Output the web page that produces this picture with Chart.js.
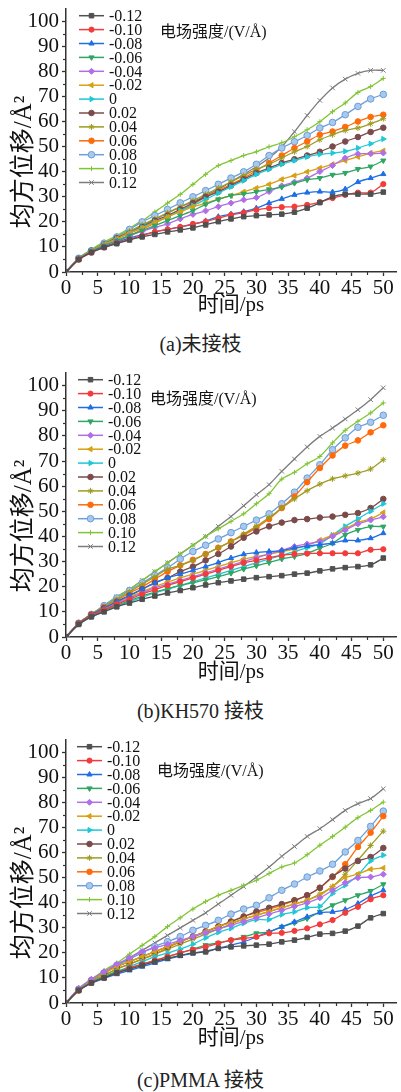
<!DOCTYPE html>
<html><head><meta charset="utf-8">
<script src="https://cdn.jsdelivr.net/npm/chart.js@4.4.0/dist/chart.umd.min.js"></script>
<style>
html,body{margin:0;padding:0;background:#fff;}
body{width:401px;height:1092px;position:relative;overflow:hidden;}
.wrap{position:absolute;left:0;width:401px;}
canvas{display:block;}
.cap{position:absolute;left:0;width:401px;text-align:center;font-family:"Liberation Serif","Noto Sans CJK SC",serif;font-size:20px;color:#222;line-height:24px;}
</style></head><body>
<div class="wrap" style="top:0;height:320px"><canvas id="ca" width="401" height="320"></canvas></div>
<div class="cap" style="top:332px">(a)未接枝</div>
<div class="wrap" style="top:364px;height:321px"><canvas id="cb" width="401" height="321"></canvas></div>
<div class="cap" style="top:699px">(b)KH570 接枝</div>
<div class="wrap" style="top:731px;height:320px"><canvas id="cc" width="401" height="320"></canvas></div>
<div class="cap" style="top:1068px">(c)PMMA 接枝</div>
<script>
// ---- shared data ----
const times = [0,2,4,6,8,10,12,14,16,18,20,22,24,26,28,30,32,34,36,38,40,42,44,46,48,50];
const fieldLabels = ['-0.12','-0.10','-0.08','-0.06','-0.04','-0.02','0','0.02','0.04','0.06','0.08','0.10','0.12'];
const xTicks = [0,5,10,15,20,25,30,35,40,45,50];
const yTicks = [0,10,20,30,40,50,60,70,80,90,100];

// ---- (a) 未接枝 ----
const a_m12 = [0,5,7.8,9.8,11.3,12.8,14,15,16,16.8,17.6,18.8,20.1,21.2,22.1,22.5,22.8,23.1,23.9,25.5,27.7,30.1,31.1,31.1,31.1,31.9];
const a_m10 = [0,5,7.7,9.8,11.5,13,14.5,16,17,18,19.2,20.1,21.5,22.8,23.7,24.8,25.5,25.9,26.1,26.8,27.9,29.5,30.8,31.7,31.7,35.1];
const a_m08 = [0,5,8,10,11.8,13.5,14.8,16,17,18,19,20.4,22.1,23.1,24.1,25.5,27.5,29.2,30.8,31.7,32.1,31.9,33.1,35.9,37.5,39.1];
const a_m06 = [0,5.2,8.2,10.5,12.5,14.5,16.5,18.5,20.5,22.5,24.5,27,29,30.5,31.2,32,33,33.9,35.5,36.8,37.5,38.8,39.5,41.1,42.1,44.5];
const a_m04 = [0,5.2,8.2,10.5,12.5,14.5,16.3,17.8,19.2,21.2,23,24.4,26.1,27.5,28.8,29.7,32.1,34.4,35.9,37.5,40.1,42.5,45.5,47.2,47.2,47.5];
const a_m02 = [0,5.3,8.5,11,13.2,15.5,17.5,19.8,22,24,26,27.5,29,30.5,32,33.5,35,37,38.5,40,41.5,43,44.5,46,47.5,48.4];
const a_z00 = [0,5.3,8.5,11,13.2,15.5,17.8,20,22,24.5,26.5,29,31.5,34,36.5,39,41,43,44.5,46,47,47.5,48.2,49.5,51.2,53.1];
const a_p02 = [0,5.3,8.5,11,13.5,15.5,18,20.5,22.5,25,27.5,30,32,34.5,37,39.5,41.5,43.5,45,46.5,48,50.1,52.1,53.9,55.9,57.6];
const a_p04 = [0,5.4,8.7,11.3,13.8,16.3,18.8,21.2,23.6,26,28.5,31,33.5,36,38.5,41,43,45.5,48,50.1,52.8,54.8,56.5,57.5,59.2,61.2];
const a_p06 = [0,5,8.2,10,12,14.5,17,19.5,22,24.5,27,30,32.5,35,37.5,40.5,43.5,46.5,49.5,52.1,54.8,56.1,57.9,60.1,61.9,62.8];
const a_p08 = [0,5.5,8.5,11.5,14,17,20,22.5,25,27.6,30,32.5,35,37.5,40,43,46.5,49.5,52,54.5,57.5,59.7,62.8,66.1,69.1,70.9];
const a_p10 = [0,5.5,9,12,14.5,17.5,20.5,24,27.5,31,35,39,42.5,44.5,46.5,48,50,51.6,54,56.8,60,64,67.5,71.7,74,77.3];
const a_p12 = [0,5.5,8.5,11,13.5,16,18.5,21,23.5,26,28,30.5,33,36,39,42,45.5,50,56,62.5,68.5,73.5,77,79.3,80.5,80.5];

// ---- (b) KH570 接枝 ----
const b_m12 = [0,5,8,10,12,13.5,15,16.3,17.5,18.5,19.6,20.7,21.6,22.3,23,23.6,24,24.4,25,25.4,26.3,27.1,27.6,28,28.7,31.4];
const b_m10 = [0,5.2,8.5,10.8,13,15,17,18.8,20.5,22,23.5,25,26.5,28,29.5,30.5,31.5,32.5,33,33.2,33.3,33.3,33.3,33.3,34.7,34.9];
const b_m08 = [0,5.3,8.8,11.5,14,16.5,19,21.5,23.5,25,26.5,28,29.6,31.4,32.9,33.6,34,34.3,35.5,36.2,36.7,37.3,38.4,38.4,39.3,41.3];
const b_m06 = [0,5.2,8.3,10.5,12.5,14.5,16.3,17.8,19.2,20.5,21.6,22.7,24,25.4,27,28.3,29.6,31,32,33.3,35.3,37.3,40.6,42.6,43.9,43.9];
const b_m04 = [0,5.3,8.5,11,13.3,15.5,17.5,19.5,21,22.5,24,25.5,27,28.5,30,31.5,33,34.5,36,37,38,40,42.5,45,46.5,47.8];
const b_m02 = [0,5.3,8.6,11.2,13.6,16,18,20,21.8,23.5,25,26.5,28,29.5,31,32,33,34,35,36.5,38.5,40.5,43,45.5,47,49.5];
const b_z00 = [0,5,8,10.2,12.2,14,15.8,17.5,19,20.5,22,23.5,25,26.5,28,29.5,31,32.5,34,35.5,37,40.5,44,47,50,53];
const b_p02 = [0,5.3,8.8,11.5,14,16.5,19,21.5,23.5,26,28,30.5,33,36,39.5,42,44,45.5,46.5,46.9,47.5,47.9,48.6,49.3,51.3,54.9];
const b_p04 = [0,5.5,9,12,15,18,21,24,27,28.5,30.5,33,35.5,38,41,44,47.5,51.3,54.9,58.2,60.8,62.9,64.1,65.2,66.8,70.5];
const b_p06 = [0,5.5,9,12,14.5,17.5,20,23,26,28.5,30.7,33,35.5,38,40.5,43.5,46.9,51.3,55.9,61.6,67.2,72.2,76.1,78.2,81.4,84.2];
const b_p08 = [0,5.5,9,12.5,15.5,18.5,21.5,24.5,27.5,31,34,36.5,39,41.5,44,46.5,49,53,57.6,63.2,68.5,74.5,79.2,83.4,85.4,88.2];
const b_p10 = [0,5.5,9,12.5,16,19,22.5,26,29.5,33,36.5,40,43,46,49,53,57,62.8,65.5,68.9,71.8,77.2,82.2,85.8,89.1,93.1];
const b_p12 = [0,5.5,9,12.5,16,19,22.5,26,29.5,33,36.5,40,44,47.9,52.2,56.6,60.6,65.9,70.8,75.6,79.8,83.1,86.7,90.4,94.4,99.1];

// ---- (c) PMMA 接枝 ----
const c_m12 = [0,5,8,10,12,13.5,15,16.5,17.8,19,20,20.4,21.8,22.4,22.8,23.1,23.5,24.4,25.1,26.2,27.5,27.8,28.7,30.7,34,35.7];
const c_m10 = [0,5,8,10,12,14,15.5,17,18.5,20,21.3,22.4,23.8,25.1,25.8,26.4,27.8,28,28.8,29.8,31.4,33.1,36,38.4,41.4,43];
const c_m08 = [0,5,7.8,9.8,11.5,13,14.5,16,17.5,18.8,19.8,20.7,21.8,23.1,24.4,26.4,28.4,30.4,32.4,34.4,36.1,36.4,37.3,39.7,42.7,45];
const c_m06 = [0,5.3,8.3,10.5,12.5,14,15.5,17,18.5,20,21.5,23.1,24,25.1,26.4,27.8,28.4,30.4,32,33.7,36.4,39,41,43,44.7,47.4];
const c_m04 = [0,5.8,9.5,12.5,15.5,18,20.5,22,23.5,25,26.5,28,29.5,31,32.5,34,35.5,37,38.5,40,42,45,48,50,50.3,51.4];
const c_m02 = [0,5.5,9,12,14.5,16.5,18.5,20.5,22.5,24.5,26.5,28.5,30.5,32,33.5,35,36.5,38,39.5,41,43,46.5,50,51.5,53.4,53.9];
const c_z00 = [0,5.5,8.5,10.5,12.5,14.5,16.5,18.5,20,21.5,23.5,26,28.2,29.8,31.8,33.3,33.3,35.3,36.4,38.1,38.6,43.7,47,51,56.7,59];
const c_p02 = [0,5.5,9,12,14.5,16.5,18.5,20.5,22.5,24.5,26.5,28.5,30.5,32.5,34.5,36.5,38,39.5,41,43,46,50.5,53.7,56.7,58.3,61.9];
const c_p04 = [0,5,8.5,11,13.5,15.5,17.5,19.5,21.5,23.5,25.5,27.5,29.5,31.5,33.5,35,36.5,38,39.5,41,43.5,46.5,51.4,57,62.9,68.6];
const c_p06 = [0,5,8.5,11,13.5,15.5,17.5,19.5,22,24.5,26.5,28.5,30.5,32.5,34.5,36,37.5,39,41,43,46,50.3,55.4,62.3,68,74.6];
const c_p08 = [0,5.5,9,12,15,17.5,20,22.5,24.5,26.5,29,31,33,35.5,37.5,39,42,45,47.5,50.3,52.7,55.4,60.3,64.9,70.5,76.6];
const c_p10 = [0,5.8,9.5,13,16,19.5,23,26.5,30.5,34,37.5,40.5,43,45,47,49,51.7,54.3,55.9,59.2,63,66.5,70.2,74,76.9,80.2];
const c_p12 = [0,5.5,9,12,15,18,21,24,27,30,33,36,39.5,43,46.5,50.3,54.3,58.6,62.5,66.5,69.6,73.2,76.9,79.6,81.6,85.5];

// ---- styles ----
const colors = ['#505050','#f23c3c','#1e6ee6','#2fa664','#b06ee8','#d9a010','#1ec8d6','#7b4b4b','#9e9c20','#ff6a0a','#6a9fd8','#80c535','#7c7c7c'];
const fills  = ['#505050','#f23c3c','#1e6ee6','#2fa664','#b06ee8','#d9a010','#1ec8d6','#7b4b4b','#9e9c20','#ff6a0a','#a9c8ee','#80c535','#7c7c7c'];
const shapes = ['rect','circle','triangle','triangle','rectRot','triangle','triangle','circle','star','circle','circle','cross','crossRot'];
const rots   = [0,0,0,180,0,-90,90,0,0,0,0,0,0];
const radii  = [3.2,2.6,3,3,3,3,3,2.8,3,2.8,3.3,2.5,3.2];

function buildDatasets(list){
  return list.map((vals,i)=>({
    label: fieldLabels[i],
    data: times.map((t,k)=>({x:t,y:vals[k]})),
    borderColor: colors[i], backgroundColor: fills[i],
    pointBackgroundColor: fills[i], pointBorderColor: colors[i],
    pointStyle: shapes[i], pointRotation: rots[i], pointRadius: radii[i],
    pointBorderWidth: 1, borderWidth: 1.3, tension: 0.3
  }));
}

function drawShape(ctx, ds, x, y){
  const h = Chart.helpers;
  ctx.fillStyle = ds.pointBackgroundColor; ctx.strokeStyle = ds.pointBorderColor; ctx.lineWidth = 1;
  if (h && h.drawPoint){
    h.drawPoint(ctx, {pointStyle: ds.pointStyle, rotation: ds.pointRotation, radius: ds.pointRadius, borderWidth: 1}, x, y);
  } else {
    ctx.beginPath(); ctx.arc(x,y,ds.pointRadius,0,Math.PI*2); ctx.fill();
  }
}

const overlay = {
  id:'overlay',
  afterDraw(chart, args, o){
    const ctx = chart.ctx, ca = chart.chartArea;
    const xs = chart.scales.x, ys = chart.scales.y;
    ctx.save();
    // minor ticks
    ctx.strokeStyle = '#333'; ctx.lineWidth = 1.2;
    for (let v = 2.5; v < 52; v += 5){
      const px = Math.round(xs.getPixelForValue(v)) + 0.5;
      ctx.beginPath(); ctx.moveTo(px, ca.bottom); ctx.lineTo(px, ca.bottom + 3); ctx.stroke();
    }
    for (let v = 5; v < 105; v += 10){
      const py = Math.round(ys.getPixelForValue(v)) + 0.5;
      ctx.beginPath(); ctx.moveTo(ca.left - 3, py); ctx.lineTo(ca.left, py); ctx.stroke();
    }
    // legend
    ctx.font = '16px "Liberation Serif", serif';
    ctx.textBaseline = 'middle'; ctx.textAlign = 'left';
    chart.data.datasets.forEach((ds,i)=>{
      const y = ca.top + o.legendDy + i*13.9;
      ctx.strokeStyle = ds.borderColor; ctx.lineWidth = 1.5;
      ctx.beginPath(); ctx.moveTo(o.legendX, y); ctx.lineTo(o.legendX + 25, y); ctx.stroke();
      drawShape(ctx, ds, o.legendX + 12.5, y);
      ctx.fillStyle = '#111';
      ctx.fillText(ds.label, o.legendX + 30, y + 1);
    });
    // field label
    ctx.font = '16px "Liberation Serif", "Noto Sans CJK SC", serif';
    ctx.fillStyle = '#111';
    ctx.fillText('电场强度/(V/Å)', o.fieldX, ca.top + o.fieldDy);
    // y title
    ctx.translate(24, o.yTitleCy);
    ctx.rotate(-Math.PI/2);
    ctx.textAlign = 'center';
    ctx.font = '25px "Liberation Serif", "Noto Sans CJK SC", serif';
    ctx.fillText('均方位移/Å²', 0, 0);
    ctx.restore();
  }
};

function makeChart(id, list, o){
  new Chart(document.getElementById(id), {
    type: 'line',
    data: { datasets: buildDatasets(list) },
    options: {
      responsive: false, animation: false,
      layout: { padding: { left: 0, right: 3, top: 9, bottom: 0 } },
      plugins: { legend: { display: false }, tooltip: { enabled: false }, overlay: o },
      scales: {
        x: {
          type: 'linear', min: 0, max: 52,
          afterBuildTicks: s => { s.ticks = xTicks.map(v=>({value:v})); },
          ticks: { font: { family: 'Liberation Serif', size: 21 }, color: '#111', padding: 0, maxRotation: 0, autoSkip: false },
          grid: { display: true, drawOnChartArea: false, drawTicks: true, tickLength: 4, tickColor: '#333', tickWidth: 1.3 },
          border: { display: true, color: '#333', width: 1.5 },
          title: { display: true, text: '时间/ps', color: '#111', font: { family: '"Liberation Serif", "Noto Sans CJK SC"', size: 21 }, padding: { top: 0, bottom: o.xTitlePad } },
          afterFit: s => { s.height = o.xH; s.paddingLeft = 0; s.paddingRight = 0; }
        },
        y: {
          min: 0, max: 105,
          afterBuildTicks: s => { s.ticks = yTicks.map(v=>({value:v})); },
          ticks: { font: { family: 'Liberation Serif', size: 21 }, color: '#111', padding: 3, autoSkip: false },
          grid: { display: true, drawOnChartArea: false, drawTicks: true, tickLength: 4, tickColor: '#333', tickWidth: 1.3 },
          border: { display: true, color: '#333', width: 1.5 },
          afterFit: s => { s.width = 66; s.paddingTop = 0; s.paddingBottom = 0; }
        }
      }
    },
    plugins: [overlay]
  });
}

makeChart('ca', [a_m12,a_m10,a_m08,a_m06,a_m04,a_m02,a_z00,a_p02,a_p04,a_p06,a_p08,a_p10,a_p12],
  { legendX: 79, legendDy: 6.7, fieldX: 160, fieldDy: 24, yTitleCy: 162, xH: 48, xTitlePad: 2 });
makeChart('cb', [b_m12,b_m10,b_m08,b_m06,b_m04,b_m02,b_z00,b_p02,b_p04,b_p06,b_p08,b_p10,b_p12],
  { legendX: 78, legendDy: 6.7, fieldX: 150, fieldDy: 27, yTitleCy: 162, xH: 48, xTitlePad: 0 });
makeChart('cc', [c_m12,c_m10,c_m08,c_m06,c_m04,c_m02,c_z00,c_p02,c_p04,c_p06,c_p08,c_p10,c_p12],
  { legendX: 77, legendDy: 6.7, fieldX: 157, fieldDy: 31.7, yTitleCy: 162, xH: 48, xTitlePad: 0 });
</script>
</body></html>
